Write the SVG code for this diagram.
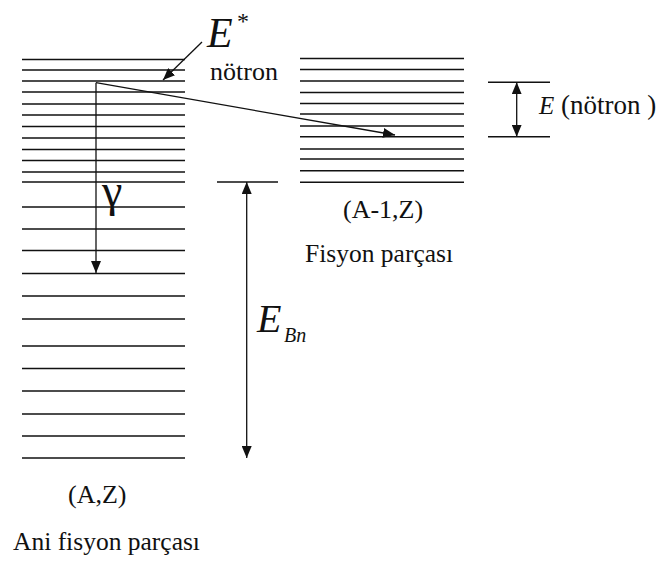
<svg xmlns="http://www.w3.org/2000/svg" width="658" height="569" viewBox="0 0 658 569">
<style>
.lv{stroke:#111;stroke-width:1.5;fill:none}
.ar{stroke:#111;stroke-width:1.3;fill:none}
.tx{font-family:'Liberation Serif','DejaVu Serif',serif;fill:#111}
.it{font-style:italic}
</style>
<defs>
<marker id="ah" markerUnits="userSpaceOnUse" markerWidth="12" markerHeight="10" refX="12" refY="5" orient="auto-start-reverse">
<path d="M0,0 L12,5 L0,10 z" fill="#111"/>
</marker>
</defs>
<rect width="658" height="569" fill="#fff"/>
<g id="ani-fisyon-levels" class="lv">
<line x1="22" y1="59.5" x2="185" y2="59.5"/>
<line x1="22" y1="70" x2="185" y2="70"/>
<line x1="22" y1="81" x2="185" y2="81"/>
<line x1="22" y1="92" x2="185" y2="92"/>
<line x1="22" y1="104" x2="185" y2="104"/>
<line x1="22" y1="115" x2="185" y2="115"/>
<line x1="22" y1="126.5" x2="185" y2="126.5"/>
<line x1="22" y1="138" x2="185" y2="138"/>
<line x1="22" y1="149.5" x2="185" y2="149.5"/>
<line x1="22" y1="160.5" x2="185" y2="160.5"/>
<line x1="22" y1="172" x2="185" y2="172"/>
<line x1="22" y1="182" x2="185" y2="182"/>
<line x1="22" y1="207" x2="185" y2="207"/>
<line x1="22" y1="229" x2="185" y2="229"/>
<line x1="22" y1="250.5" x2="185" y2="250.5"/>
<line x1="22" y1="273.5" x2="185" y2="273.5"/>
<line x1="22" y1="296" x2="185" y2="296"/>
<line x1="22" y1="319" x2="185" y2="319"/>
<line x1="22" y1="346" x2="185" y2="346"/>
<line x1="22" y1="368.5" x2="185" y2="368.5"/>
<line x1="22" y1="391" x2="185" y2="391"/>
<line x1="22" y1="414" x2="185" y2="414"/>
<line x1="22" y1="436" x2="185" y2="436"/>
<line x1="22" y1="458" x2="185" y2="458"/>
</g>
<g id="fisyon-levels" class="lv">
<line x1="300" y1="58.5" x2="464" y2="58.5"/>
<line x1="300" y1="69.5" x2="464" y2="69.5"/>
<line x1="300" y1="81" x2="464" y2="81"/>
<line x1="300" y1="92.5" x2="464" y2="92.5"/>
<line x1="300" y1="103.5" x2="464" y2="103.5"/>
<line x1="300" y1="114" x2="464" y2="114"/>
<line x1="300" y1="126" x2="464" y2="126"/>
<line x1="300" y1="136.7" x2="464" y2="136.7"/>
<line x1="300" y1="149" x2="464" y2="149"/>
<line x1="300" y1="159" x2="464" y2="159"/>
<line x1="300" y1="170.7" x2="464" y2="170.7"/>
<line x1="300" y1="182.3" x2="464" y2="182.3"/>
</g>
<g id="reference-lines" class="lv">
<line x1="217" y1="182" x2="278" y2="182"/>
<line x1="488" y1="82.3" x2="550" y2="82.3"/>
<line x1="488" y1="136.7" x2="550" y2="136.7"/>
</g>
<g id="connectors" class="ar">
<line x1="202" y1="42" x2="163" y2="80" marker-end="url(#ah)"/>
<line x1="96" y1="82.7" x2="96" y2="273" marker-end="url(#ah)"/>
<line x1="96" y1="82.7" x2="395" y2="135" marker-end="url(#ah)"/>
<line x1="246.7" y1="182" x2="246.7" y2="458" marker-start="url(#ah)" marker-end="url(#ah)"/>
<line x1="516.7" y1="82.3" x2="516.7" y2="136.7" marker-start="url(#ah)" marker-end="url(#ah)"/>
</g>
<g id="labels" class="tx">
<text x="207" y="47" class="it" font-size="42">E</text>
<text x="237" y="29" font-size="24">*</text>
<text x="210" y="80" font-size="26">nötron</text>
<text x="102" y="206" font-size="46">γ</text>
<text x="257" y="332" class="it" font-size="40">E</text>
<text x="284" y="342" class="it" font-size="20">Bn</text>
<text x="539" y="114" class="it" font-size="25">E</text>
<text x="561" y="114" font-size="27">(nötron )</text>
<text x="343" y="218" font-size="26">(A-1,Z)</text>
<text x="305" y="262" font-size="25.5">Fisyon parçası</text>
<text x="68" y="503" font-size="26">(A,Z)</text>
<text x="13" y="550" font-size="25.5">Ani fisyon parçası</text>
</g>
</svg>
